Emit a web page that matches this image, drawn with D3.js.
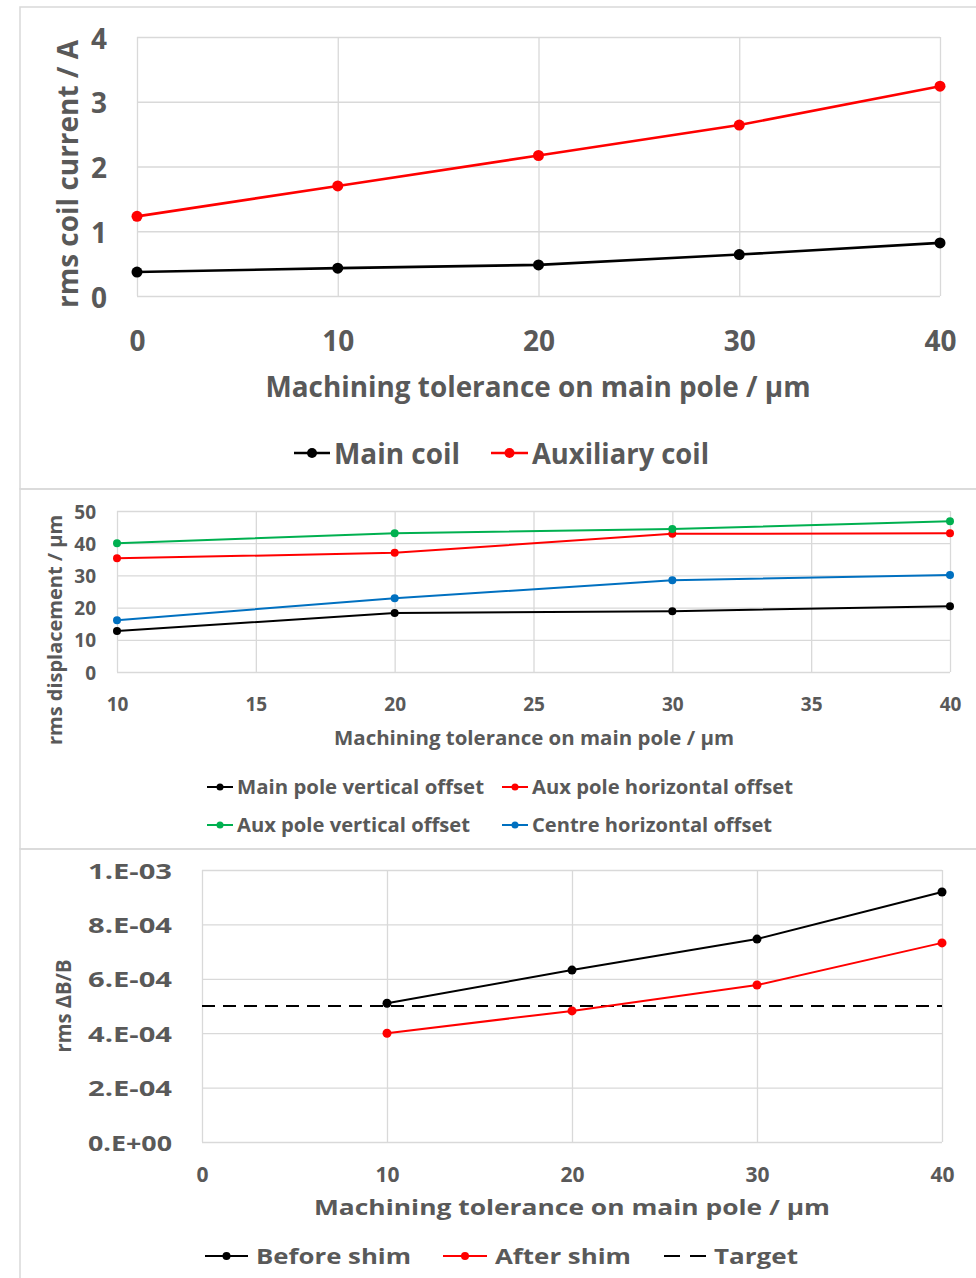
<!DOCTYPE html>
<html>
<head>
<title>Machining tolerance charts</title>
<style>
  body { margin: 0; background: #fff; overflow: hidden; }
  svg text { font-family: "Open Sans", sans-serif; font-weight: bold; fill: #595959; }
</style>
</head>
<body>
<svg id="chart" width="976" height="1278"></svg>
<script src="https://cdnjs.cloudflare.com/ajax/libs/d3/7.8.5/d3.min.js"></script>
<script>
  // --- panel 1: rms coil current
  const toleranceA = [0, 10, 20, 30, 40];
  const mainCoil = [0.37, 0.43, 0.48, 0.64, 0.82];
  const auxCoil = [1.23, 1.70, 2.17, 2.64, 3.24];
  const currentTicks = [0, 1, 2, 3, 4];
  const toleranceATicks = [0, 10, 20, 30, 40];

  // --- panel 2: rms displacement
  const toleranceB = [10, 20, 30, 40];
  const mainPoleVert = [12.7, 18.3, 18.9, 20.4];
  const auxPoleHoriz = [35.3, 37.0, 42.9, 43.1];
  const auxPoleVert = [40.0, 43.1, 44.4, 46.8];
  const centreHoriz = [16.1, 22.9, 28.5, 30.1];
  const displacementTicks = [0, 10, 20, 30, 40, 50];
  const toleranceBTicks = [10, 15, 20, 25, 30, 35, 40];

  // --- panel 3: rms dB/B
  const toleranceC = [10, 20, 30, 40];
  const beforeShim = [5.1e-4, 6.32e-4, 7.46e-4, 9.19e-4];
  const afterShim = [4.0e-4, 4.82e-4, 5.77e-4, 7.32e-4];
  const target = 5e-4;
  const fieldTicks = [0, 2e-4, 4e-4, 6e-4, 8e-4, 1e-3];
  const fieldTickLabels = ["0.E+00", "2.E-04", "4.E-04", "6.E-04", "8.E-04", "1.E-03"];
  const toleranceCTicks = [0, 10, 20, 30, 40];

  const svg = d3.select("#chart");
  const grid = "#d9d9d9";

  // panel frames
  [[7, 489], [489, 849], [849, 1290]].forEach(function(p) {
    svg.append("rect").attr("x", 20).attr("y", p[0]).attr("width", 1000).attr("height", p[1] - p[0])
      .attr("fill", "none").attr("stroke", grid).attr("stroke-width", 1.5);
  });

  function drawPanel(cfg) {
    const x = d3.scaleLinear().domain(cfg.xDomain).range([cfg.left, cfg.right]);
    const y = d3.scaleLinear().domain(cfg.yDomain).range([cfg.bottom, cfg.top]);
    const g = svg.append("g");

    const yAxis = g.append("g").attr("transform", "translate(" + cfg.left + ",0)")
      .call(d3.axisLeft(y).tickValues(cfg.yTicks).tickSize(-(cfg.right - cfg.left))
        .tickPadding(cfg.yPad).tickFormat(cfg.yFormat));
    const xAxis = g.append("g").attr("transform", "translate(0," + cfg.bottom + ")")
      .call(d3.axisBottom(x).tickValues(cfg.xTicks).tickSize(-(cfg.bottom - cfg.top))
        .tickPadding(0).tickFormat(d3.format("d")));

    [yAxis, xAxis].forEach(function(a) {
      a.select(".domain").remove();
      a.selectAll(".tick line").attr("stroke", grid).attr("stroke-width", 1.3);
      a.selectAll("text").attr("font-size", cfg.fs).style("fill", "#595959");
    });
    yAxis.selectAll("text").attr("dy", null).attr("dominant-baseline", "central");
    if (cfg.yLen) yAxis.selectAll("text").attr("textLength", cfg.yLen).attr("lengthAdjust", "spacingAndGlyphs");
    xAxis.selectAll("text").attr("y", cfg.xLabelY - cfg.bottom).attr("dy", null)
      .attr("dominant-baseline", "central");

    // axis titles
    g.append("text").attr("x", cfg.xTitle[0]).attr("y", cfg.xTitle[1]).attr("text-anchor", "middle")
      .attr("dominant-baseline", "central").attr("font-size", cfg.fs)
      .attr("textLength", cfg.xTitle[2]).attr("lengthAdjust", "spacingAndGlyphs").text(cfg.xLabel);
    g.append("text").attr("transform", "translate(" + cfg.yTitle[0] + "," + cfg.yTitle[1] + ") rotate(-90)")
      .attr("text-anchor", "middle").attr("dominant-baseline", "central").attr("font-size", cfg.fs)
      .attr("textLength", cfg.yTitle[2]).attr("lengthAdjust", "spacingAndGlyphs").text(cfg.yLabel);

    if (cfg.refLine !== undefined) {
      g.append("line").attr("x1", x(cfg.xDomain[0])).attr("x2", x(cfg.xDomain[1]))
        .attr("y1", y(cfg.refLine)).attr("y2", y(cfg.refLine))
        .attr("stroke", "#000").attr("stroke-width", 2).attr("stroke-dasharray", "13,8");
    }

    const line = d3.line().x(function(d) { return x(d[0]); }).y(function(d) { return y(d[1]); });
    cfg.series.forEach(function(s) {
      const pts = cfg.xs.map(function(v, i) { return [v, s.values[i]]; });
      g.append("path").datum(pts).attr("d", line).attr("fill", "none")
        .attr("stroke", s.color).attr("stroke-width", cfg.lw);
      g.selectAll(null).data(pts).enter().append("circle")
        .attr("cx", function(d) { return x(d[0]); }).attr("cy", function(d) { return y(d[1]); })
        .attr("r", cfg.r).attr("fill", s.color);
    });

    // legend
    cfg.legend.forEach(function(it) {
      const lg = g.append("g");
      lg.append("line").attr("x1", it.x1).attr("x2", it.x2).attr("y1", it.y).attr("y2", it.y)
        .attr("stroke", it.color).attr("stroke-width", cfg.lw)
        .attr("stroke-dasharray", it.dash ? "16,10" : null);
      if (!it.dash) {
        lg.append("circle").attr("cx", (it.x1 + it.x2) / 2).attr("cy", it.y).attr("r", cfg.r - 0.5)
          .attr("fill", it.color);
      }
      lg.append("text").attr("x", it.tx).attr("y", it.y).attr("dominant-baseline", "central")
        .attr("font-size", cfg.fs).attr("textLength", it.len).attr("lengthAdjust", "spacingAndGlyphs")
        .text(it.label);
    });
  }

  drawPanel({
    left: 137, right: 940, top: 37, bottom: 296,
    xDomain: [0, 40], yDomain: [0, 4], xTicks: toleranceATicks, yTicks: currentTicks,
    yFormat: d3.format("d"), yPad: 30, xLabelY: 340, fs: 28, lw: 2.6, r: 5.5,
    xLabel: "Machining tolerance on main pole / µm", xTitle: [538, 386, 545],
    yLabel: "rms coil current / A", yTitle: [67, 174, 268],
    xs: toleranceA,
    series: [
      { values: mainCoil, color: "#000000" },
      { values: auxCoil, color: "#ff0000" }
    ],
    legend: [
      { x1: 294, x2: 330, y: 453, color: "#000000", tx: 334, len: 126, label: "Main coil" },
      { x1: 491, x2: 528, y: 453, color: "#ff0000", tx: 532, len: 177, label: "Auxiliary coil" }
    ]
  });

  drawPanel({
    left: 117, right: 950, top: 511, bottom: 672,
    xDomain: [10, 40], yDomain: [0, 50], xTicks: toleranceBTicks, yTicks: displacementTicks,
    yFormat: d3.format("d"), yPad: 21, xLabelY: 704, fs: 19, lw: 2, r: 4,
    xLabel: "Machining tolerance on main pole / µm", xTitle: [534, 738, 400],
    yLabel: "rms displacement / µm", yTitle: [55, 630, 230],
    xs: toleranceB,
    series: [
      { values: mainPoleVert, color: "#000000" },
      { values: auxPoleHoriz, color: "#ff0000" },
      { values: auxPoleVert, color: "#00b050" },
      { values: centreHoriz, color: "#0070c0" }
    ],
    legend: [
      { x1: 207, x2: 233, y: 787, color: "#000000", tx: 237, len: 247, label: "Main pole vertical offset" },
      { x1: 502, x2: 528, y: 787, color: "#ff0000", tx: 532, len: 261, label: "Aux pole horizontal offset" },
      { x1: 207, x2: 233, y: 825, color: "#00b050", tx: 237, len: 233, label: "Aux pole vertical offset" },
      { x1: 502, x2: 528, y: 825, color: "#0070c0", tx: 532, len: 240, label: "Centre horizontal offset" }
    ]
  });

  drawPanel({
    left: 202, right: 942, top: 870, bottom: 1142,
    xDomain: [0, 40], yDomain: [0, 1e-3], xTicks: toleranceCTicks, yTicks: fieldTicks,
    yFormat: function(d, i) { return fieldTickLabels[i]; }, yPad: 30, yLen: 84,
    xLabelY: 1174, fs: 21, lw: 2, r: 4.5,
    xLabel: "Machining tolerance on main pole / µm", xTitle: [572, 1207, 516],
    yLabel: "rms ΔB/B", yTitle: [63, 1006, 93],
    xs: toleranceC, refLine: target,
    series: [
      { values: beforeShim, color: "#000000" },
      { values: afterShim, color: "#ff0000" }
    ],
    legend: [
      { x1: 205, x2: 248, y: 1256, color: "#000000", tx: 256, len: 155, label: "Before shim" },
      { x1: 443, x2: 487, y: 1256, color: "#ff0000", tx: 495, len: 136, label: "After shim" },
      { x1: 664, x2: 707, y: 1256, color: "#000000", tx: 714, len: 84, label: "Target", dash: true }
    ]
  });
</script>
</body>
</html>
